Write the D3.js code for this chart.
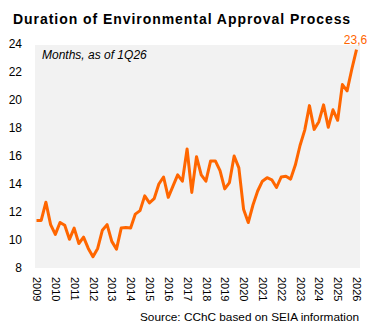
<!DOCTYPE html>
<html>
<head>
<meta charset="utf-8">
<script src="https://cdn.jsdelivr.net/npm/d3@7"></script>
<style>
  body { margin: 0; background: #fff; }
  svg { font-family: "Liberation Sans", Arial, sans-serif; }
</style>
</head>
<body>
<div id="chart"></div>
<script>
// quarterly values, 1Q09 .. 1Q26 (months)
var months = [
  11.4, 11.4, 12.7, 11.1, 10.4, 11.25, 11.05, 10.05, 10.85, 9.75, 10.2, 9.4,
  8.8, 9.4, 10.7, 11.1, 9.9, 9.35, 10.85, 10.9, 10.85, 11.85, 12.1, 13.15,
  12.65, 12.95, 14.0, 14.5, 13.05, 13.85, 14.65, 14.2, 16.5, 13.4, 15.95, 14.65,
  14.2, 15.65, 15.65, 14.95, 13.65, 14.1, 16.0, 15.15, 12.2, 11.25, 12.5, 13.5,
  14.2, 14.45, 14.3, 13.75, 14.5, 14.55, 14.35, 15.35, 16.75, 17.85, 19.6, 17.9,
  18.45, 19.65, 18.05, 19.3, 18.55, 21.1, 20.65, 22.2, 23.6
];
var firstYear = 2009;
var yearLabels = d3.range(2009, 2027);
var yTicks = [8, 10, 12, 14, 16, 18, 20, 22, 24];
var lastLabel = "23,6";

var width = 375, height = 329;
var margin = {top: 45, right: 15, bottom: 61, left: 35};

var svg = d3.select("#chart").append("svg")
    .attr("width", width)
    .attr("height", height);

// quarters as fractional years
var data = months.map(function(v, i) { return {t: firstYear + i / 4, v: v}; });

var x = d3.scaleLinear().domain([2009, 2026]).range([36.5, 356.5]);
var y = d3.scaleLinear().domain([8, 24]).range([268, 44]);

// plot background
svg.append("rect")
    .attr("x", margin.left)
    .attr("y", margin.top)
    .attr("width", width - margin.left - margin.right)
    .attr("height", 268 - margin.top)
    .attr("fill", "#f2f2f2");

// title
svg.append("text")
    .attr("x", 13)
    .attr("y", 24)
    .attr("font-size", 14)
    .attr("font-weight", "bold")
    .attr("letter-spacing", 0.95)
    .attr("fill", "#000")
    .text("Duration of Environmental Approval Process");

svg.append("text")
    .attr("x", 42)
    .attr("y", 59)
    .attr("font-size", 12)
    .attr("font-style", "italic")
    .attr("fill", "#000")
    .text("Months, as of 1Q26");

// y axis, labels only
var yAxis = svg.append("g")
    .attr("transform", "translate(22,0)")
    .call(d3.axisLeft(y).tickValues(yTicks).tickSize(0).tickPadding(0));
yAxis.select(".domain").remove();
yAxis.selectAll("text")
    .attr("font-size", 12)
    .attr("font-family", "Liberation Sans, Arial, sans-serif")
    .attr("fill", "#000");

// x axis, vertical year labels
var xAxis = svg.append("g")
    .attr("transform", "translate(0,277)")
    .call(d3.axisBottom(x).tickValues(yearLabels).tickFormat(d3.format("d")).tickSize(0).tickPadding(0));
xAxis.select(".domain").remove();
xAxis.selectAll("text")
    .attr("font-size", 11)
    .attr("font-family", "Liberation Sans, Arial, sans-serif")
    .attr("fill", "#000")
    .attr("text-anchor", "start")
    .attr("transform", "rotate(90)")
    .attr("x", 0)
    .attr("y", 0)
    .attr("dy", "0.35em");

// the line
var line = d3.line()
    .x(function(d) { return x(d.t); })
    .y(function(d) { return y(d.v); });

svg.append("path")
    .datum(data)
    .attr("d", line)
    .attr("fill", "none")
    .attr("stroke", "#ff6600")
    .attr("stroke-width", 3)
    .attr("stroke-linejoin", "round");

// last value label
var last = data[data.length - 1];
svg.append("text")
    .attr("x", x(last.t) - 1)
    .attr("y", y(last.v) - 6)
    .attr("text-anchor", "middle")
    .attr("font-size", 12)
    .attr("fill", "#ff6600")
    .text(lastLabel);

// source
svg.append("text")
    .attr("x", 359)
    .attr("y", 321)
    .attr("text-anchor", "end")
    .attr("font-size", 11.8)
    .attr("fill", "#000")
    .text("Source: CChC based on SEIA information");
</script>
</body>
</html>
